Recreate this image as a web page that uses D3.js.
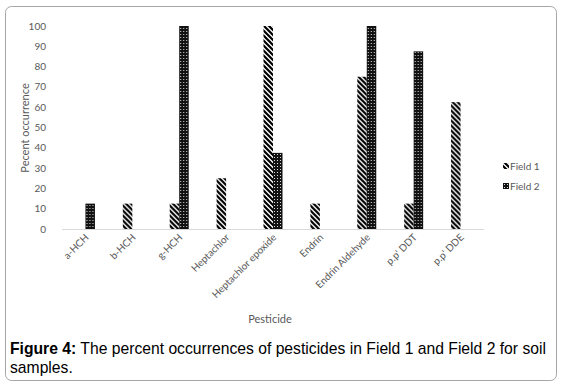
<!DOCTYPE html>
<html>
<head>
<meta charset="utf-8">
<script src="https://cdn.jsdelivr.net/npm/d3@7"></script>
<style>
  body { margin: 0; background: #fff; }
  svg text { font-family: Lato, "Open Sans", sans-serif; }
</style>
</head>
<body>
<svg id="chart"></svg>
<script>
// jshint esversion : 6
const pesticides = ['a-HCH', 'b-HCH', 'g-HCH', 'Heptachlor', 'Heptachlor epoxide',
  'Endrin', 'Endrin Aldehyde', "p.p' DDT", "p.p' DDE"];
const field1 = [0, 12.5, 12.5, 25, 100, 12.5, 75, 12.5, 62.5];
const field2 = [12.5, 0, 100, 0, 37.5, 0, 100, 87.5, 0];
const seriesNames = ['Field 1', 'Field 2'];
const yTicks = [0, 10, 20, 30, 40, 50, 60, 70, 80, 90, 100];

const width = 566, height = 385;
const svg = d3.select('#chart').attr('width', width).attr('height', height);

// patterns
const defs = svg.append('defs');
let p1 = defs.append('pattern')
  .attr('id', 'pat1')
  .attr('patternUnits', 'userSpaceOnUse')
  .attr('width', 5).attr('height', 5);
p1.append('rect').attr('width', 5).attr('height', 5).attr('fill', '#fff');
p1.append('path')
  .attr('d', 'M-1,-1 L6,6 M-1,4 L1,6 M4,-1 L6,1')
  .attr('stroke', '#000')
  .attr('stroke-width', 2.2);
let p2 = defs.append('pattern')
  .attr('id', 'pat2')
  .attr('patternUnits', 'userSpaceOnUse')
  .attr('width', 3).attr('height', 3);
p2.append('rect').attr('width', 3).attr('height', 3).attr('fill', '#111');
p2.append('rect').attr('x', 1).attr('y', 1).attr('width', 1).attr('height', 1).attr('fill', '#ddd');
const fills = ['url(#pat1)', 'url(#pat2)'];

// outer border
svg.append('rect')
  .attr('x', 5.5).attr('y', 6.5)
  .attr('width', 551).attr('height', 374)
  .attr('rx', 6)
  .attr('fill', 'none')
  .attr('stroke', '#a6a6a6')
  .attr('stroke-width', 1);

const x0 = d3.scaleBand().domain(pesticides).range([62, 484]);
const x1 = d3.scaleBand().domain(seriesNames).range([-9.5, 9.5]);
const y = d3.scaleLinear().domain([0, 100]).range([229, 26]);

// y axis labels
svg.append('g')
  .selectAll('text')
  .data(yTicks)
  .enter()
  .append('text')
  .attr('x', 46)
  .attr('y', d => y(d))
  .attr('dy', '0.35em')
  .attr('text-anchor', 'end')
  .attr('fill', '#595959')
  .style('font-size', '10px')
  .text(d => d);

// baseline
svg.append('line')
  .attr('x1', 62).attr('x2', 484)
  .attr('y1', y(0) + 0.5).attr('y2', y(0) + 0.5)
  .attr('stroke', '#d9d9d9');

// bars
const groups = svg.append('g')
  .selectAll('g')
  .data(pesticides)
  .enter()
  .append('g')
  .attr('transform', d => 'translate(' + (x0(d) + x0.bandwidth() / 2) + ',0)');

groups.selectAll('rect')
  .data((d, i) => [field1[i], field2[i]].map((v, s) => ({ v: v, s: s })))
  .enter()
  .filter(d => d.v > 0)
  .append('rect')
  .attr('x', d => x1(seriesNames[d.s]))
  .attr('width', x1.bandwidth())
  .attr('y', d => y(d.v))
  .attr('height', d => y(0) - y(d.v))
  .attr('fill', d => fills[d.s]);

// x labels
svg.append('g')
  .selectAll('text')
  .data(pesticides)
  .enter()
  .append('text')
  .attr('transform', d => 'translate(' + (x0(d) + x0.bandwidth() / 2 + 4) + ',238) rotate(-45)')
  .attr('text-anchor', 'end')
  .attr('fill', '#595959')
  .style('font-size', '10px')
  .text(d => d);

// axis titles
svg.append('text')
  .attr('transform', 'translate(29,128) rotate(-90)')
  .attr('text-anchor', 'middle')
  .attr('fill', '#595959')
  .style('font-size', '11px')
  .text('Pecent occurrence');

svg.append('text')
  .attr('x', 270).attr('y', 323)
  .attr('text-anchor', 'middle')
  .attr('fill', '#595959')
  .style('font-size', '11px')
  .text('Pesticide');

// legend
const legend = svg.append('g')
  .selectAll('g')
  .data(seriesNames)
  .enter()
  .append('g')
  .attr('transform', (d, i) => 'translate(503,' + (166 + i * 20) + ')');
legend.append('rect')
  .attr('x', 0).attr('y', -3)
  .attr('width', 6).attr('height', 6)
  .attr('fill', (d, i) => fills[i]);
legend.append('text')
  .attr('x', 7).attr('y', 0)
  .attr('dy', '0.35em')
  .attr('fill', '#595959')
  .style('font-size', '10px')
  .text(d => d);

// caption
const cap = svg.append('text')
  .attr('fill', '#000')
  .style('font-family', '"Liberation Sans", Arial, sans-serif')
  .style('font-size', '15.7px');
let line1 = cap.append('tspan').attr('x', 10).attr('y', 354);
line1.append('tspan').style('font-weight', 'bold').text('Figure 4:');
line1.append('tspan').text(' The percent occurrences of pesticides in Field 1 and Field 2 for soil');
cap.append('tspan').attr('x', 10).attr('y', 373).text('samples.');
</script>
</body>
</html>
